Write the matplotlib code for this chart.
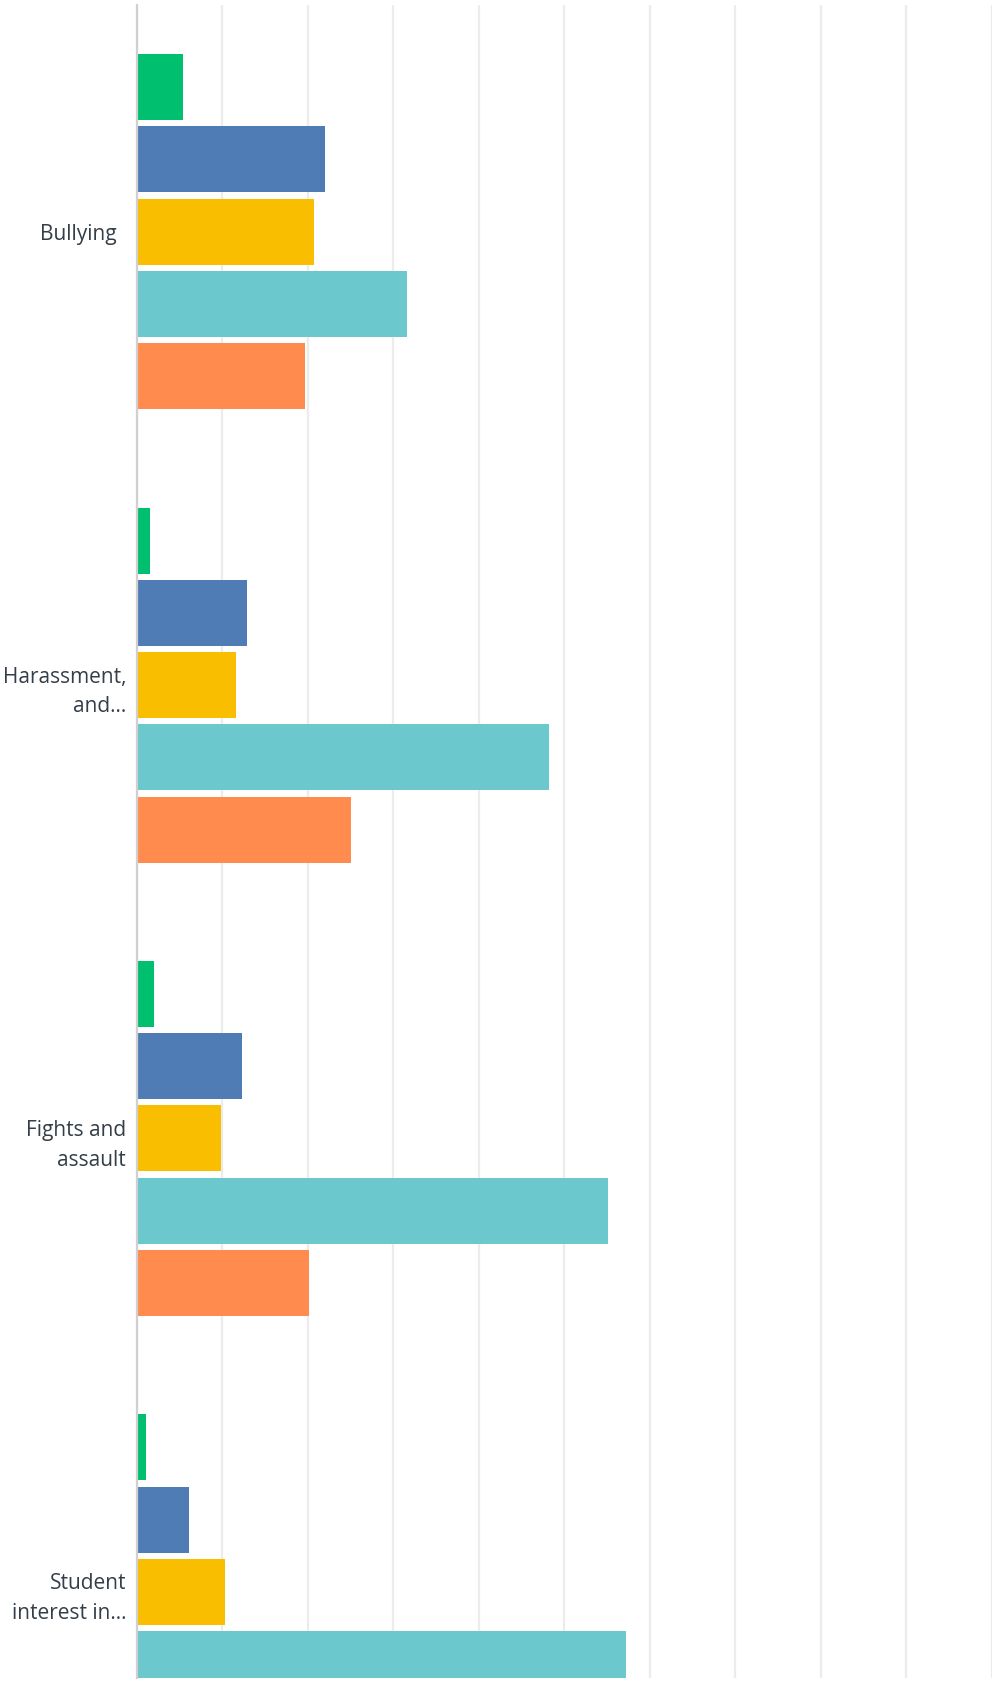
import matplotlib.pyplot as plt
import matplotlib.transforms as mtransforms
import numpy as np

# categories (top to bottom) and the five answer series
categories = ['Bullying', 'Harassment,\nand...', 'Fights and\nassault', 'Student\ninterest in...']
green = [5.4, 1.6, 2.0, 1.1]
blue = [22.0, 12.9, 12.3, 6.1]
yellow = [20.8, 11.6, 9.9, 10.3]
cyan = [31.6, 48.2, 55.2, 57.3]
orange = [19.7, 25.1, 20.2, 21.0]

series = [green, blue, yellow, cyan, orange]
colors = ['#00bf6f', '#507cb6', '#f9be00', '#6bc8cd', '#ff8b4f']

plt.rcParams['font.family'] = ['Open Sans', 'DejaVu Sans']

fig = plt.figure(figsize=(9.96, 16.82), dpi=100)
ax = fig.add_axes([136.5 / 996, 4 / 1682, 855 / 996, 1673 / 1682])

y = np.arange(len(categories))
pitch = 0.1593
height = 0.1457
for i, (vals, c) in enumerate(zip(series, colors)):
    ax.barh(y + (i - 2) * pitch, vals, height=height, color=c, zorder=3)

ax.set_xlim(0, 100)
ax.set_ylim(3.19, -0.5)
ax.set_xticks(np.arange(0, 101, 10))
ax.xaxis.grid(True, color='#ececec', linewidth=1.6, zorder=0)
ax.tick_params(axis='x', length=0, labelbottom=False)

ax.set_yticks(y)
ax.set_yticklabels(categories, fontsize=15, color='#333e48', linespacing=1.55,
                   multialignment='right')
ax.tick_params(axis='y', length=0, pad=7.5)

# "Bullying" sits a little further left in the original
lbl = ax.get_yticklabels()[0]
lbl.set_transform(lbl.get_transform() + mtransforms.ScaledTranslation(-0.09, 0, fig.dpi_scale_trans))

for s in ['top', 'right', 'bottom']:
    ax.spines[s].set_visible(False)
ax.spines['left'].set_color('#d0d0d0')
ax.spines['left'].set_linewidth(1.6)
ax.spines['left'].set_zorder(4)

fig.savefig('out.png', dpi=100)
